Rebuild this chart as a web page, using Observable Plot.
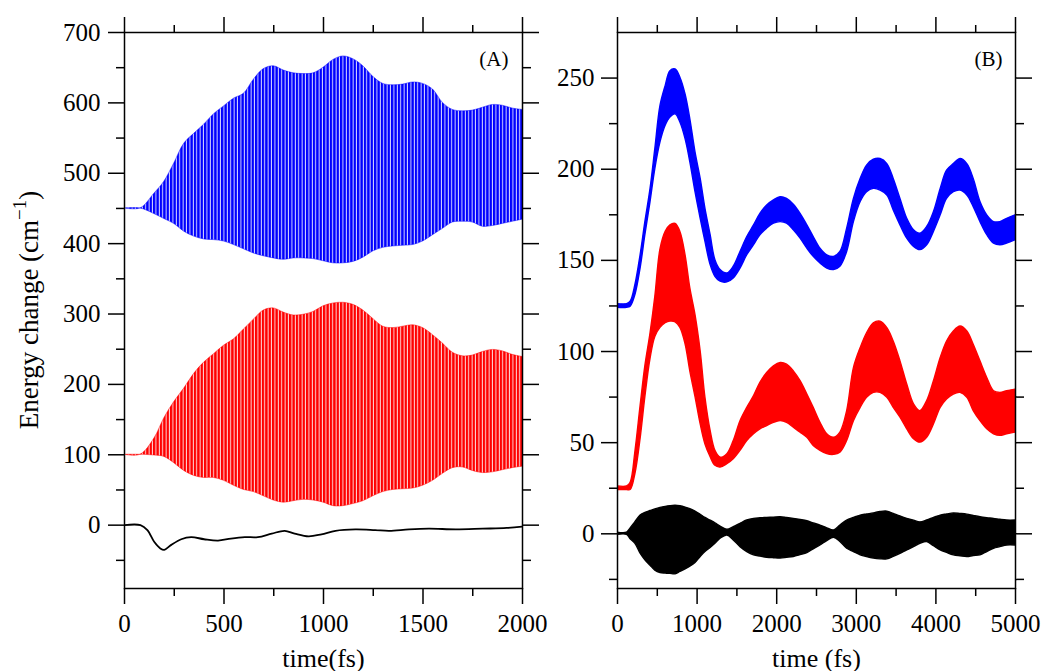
<!DOCTYPE html>
<html><head><meta charset="utf-8">
<script src="https://cdn.jsdelivr.net/npm/d3@7"></script>
<script src="https://cdn.jsdelivr.net/npm/@observablehq/plot@0.6"></script>
<style>
body{margin:0;background:#fff;}
#wrap{position:relative;width:1044px;height:671px;overflow:hidden;background:#fff;}
#wrap svg{position:absolute;top:0;overflow:visible;}
#wrap svg, #wrap svg text, #wrap svg tspan{font-family:"Liberation Serif","Times New Roman",serif !important;}
</style></head><body><div id="wrap"></div>
<script>
// ---------- Panel A data (time in fs, energy change in cm^-1) ----------
const tA = [0,80,150,200,250,300,350,400,450,500,550,600,650,700,750,800,850,900,950,1000,1050,1100,1150,1200,1250,1300,1350,1400,1450,1500,1550,1600,1650,1700,1750,1800,1850,1900,1950,2000];
const blueAHi = [450,450,471,488,514,542,556,569,584,595,606,613,633,648,652,646,642,641,642,650,661,666,662,652,637,627,625,626,629,627,619,600,590,588,589,593,597,596,592,590];
const blueALo = [450,450,442,435,428,417,410,406,405,403,398,392,386,382,379,377,379,379,378,375,372,372,374,380,389,394,396,397,398,403,412,421,430,431,430,424,425,428,431,434];
const redAHi = [100,100,123,152,175,194,215,231,243,255,264,278,292,305,308,302,298,299,303,311,315,316,313,305,293,282,280,282,284,280,270,258,245,240,241,246,249,247,242,239];
const redALo = [100,100,99,97,88,77,70,67,67,63,56,50,47,41,35,32,34,36,35,32,27,27,30,34,41,47,50,51,52,56,63,73,81,82,77,74,75,78,81,83];
const tBlackA = [0,80,115,150,180,200,235,285,335,400,470,535,605,670,740,805,855,925,990,1060,1160,1260,1330,1430,1530,1665,1800,1920,2000];
const blackA = [0,0,-7,-24,-33,-35,-28,-20,-17,-20,-22,-19,-17,-17,-12,-8,-12,-16,-13,-8,-6,-7,-8,-6,-5,-6,-5,-4,-2];

// ---------- Panel B data ----------
const tB = [0,120,165,225,290,350,415,475,540,605,665,730,790,855,915,980,1045,1105,1170,1230,1295,1380,1460,1545,1630,1715,1795,1880,1965,2050,2130,2215,2300,2385,2465,2550,2635,2720,2800,2885,2970,3055,3135,3220,3305,3390,3470,3555,3640,3725,3805,3890,3975,4060,4140,4225,4310,4395,4475,4560,4645,4730,4810,4895,5000];
const blueBHi = [126,126,127.3,136.5,152.8,171,189.2,211,234.7,245.6,253.8,254.7,250.2,241,227.4,209.2,194.7,178.3,163.8,150.1,144.7,142.8,146.5,154.6,162.8,169.2,175.5,180.1,182.9,184.7,183.7,180.5,175.5,169.2,162.8,156.4,152.8,151.9,154.6,167.4,183.7,194.7,202,205.2,205.6,202.8,194.7,183.7,172.8,166.5,164.6,168.3,176.5,189.2,199.2,202.8,205.6,202.8,194.7,182,174.7,171,171,172.8,174.7];
const blueBLo = [124,124,124.6,131,145.5,163.8,182,200.1,214.7,223.8,228.3,230.1,225.6,216.5,203.8,187.4,172.8,160.1,147.4,141,138.3,137.9,140.1,145.5,152.8,158.3,163.8,167.4,170.1,171,170.1,166.5,161.9,156.4,151.9,148.3,145.5,144.7,146.5,154.6,171,182,187.4,189.2,188.3,185.6,177.4,169.2,161.9,157.4,155.6,158.3,165.6,174.7,183.7,187.4,188.3,185.6,179.2,171,163.8,159.2,158.3,159.2,161];
const redBHi = [26,26,28,45,70,92,110,130,156,165.6,169.2,170,165.6,152.8,134.6,120,100,74.6,56.4,45.5,41.8,43.7,50.9,61.8,69.1,75.5,82.8,88.2,91.9,93.7,92.8,89.1,83.7,76.4,69.1,60.9,54.6,52.7,55.5,67.3,90.9,101.9,110,115.5,116.4,112.8,105.5,94.6,81.9,71,67.3,72.8,83.7,96.4,105.5,111,113.7,111,103.7,94.6,85.5,78.2,77.3,78.2,79.1];
const redBLo = [24,24,24,32.8,52,75,96,108,113,115.5,116.4,116,113,104,89,75,60,49,42,37.3,36.4,38.2,40.9,45.5,50.9,54.6,57.3,59.1,60.9,61.8,60.9,58.2,55.5,52.7,48.2,45.5,43.7,43.3,44.5,50.9,61.8,69.1,74.6,77.3,77.3,74.6,69.1,63.7,57.3,51.9,50,52.7,60,69.1,73.7,76.4,77.3,74.6,67.3,61.8,57.3,54.6,53.7,54.6,55.5];
const blackBHi = [0.6,0.6,3,6.4,10,11.5,12.5,13.4,14.2,14.8,15.2,15.4,15.1,14.4,13.5,12.2,10.4,8.7,7.2,5.8,4,2.2,3.6,5.5,7.3,8.2,8.5,8.7,8.9,9.1,8.7,8.2,7.6,6.9,5.7,4.5,3,1.8,4.5,7.3,8.7,10,10.6,11.2,12,12.2,10.9,9.5,8.2,7.2,6.3,7.3,8.7,10,10.6,11.2,10.9,10.5,9.8,9.1,8.6,8.2,7.7,7.3,7.3];
const blackBLo = [-0.6,-0.6,-3,-5.5,-10.9,-14.5,-17.5,-20.2,-21.5,-21.8,-22,-22.2,-20.9,-19.5,-18,-16,-12.7,-10,-7.8,-5.5,-2.7,-0.9,-3.6,-7.3,-10,-11.8,-12.5,-13.1,-13.4,-13.6,-13.2,-12.7,-11.7,-10.6,-8.5,-6.4,-4,-2.2,-4.5,-8.2,-10,-11.8,-12.8,-13.6,-14,-14,-12.7,-11,-9.1,-7.3,-5.5,-4.5,-6.8,-9.1,-10.5,-11.8,-12.3,-12.7,-12.2,-11.8,-10,-8.2,-7.3,-6.4,-6.4];

// ---------- ticks and labels ----------
const ticksAx = [0,500,1000,1500,2000];
const minorAx = [250,750,1250,1750];
const ticksAy = [0,100,200,300,400,500,600,700];
const minorAy = [-50,50,150,250,350,450,550,650];
const ticksBx = [0,1000,2000,3000,4000,5000];
const minorBx = [500,1500,2500,3500,4500];
const ticksBy = [0,50,100,150,200,250];
const minorBy = [-25,25,75,125,175,225];
const xTitleA = "time(fs)";
const xTitleB = "time (fs)";
const yTitle = "Energy change (cm";
const yTitleSup = "\u22121";
const panelA = "(A)";
const panelB = "(B)";

const font = "'Liberation Serif','Times New Roman',serif";
const fmt = d3.format("d");
const blank = () => "";
const SW = 1.5;
const smooth = "catmull-rom";

function frameAxes(xMaj, xMin, yMaj, yMin, yPad) {
  return [
    Plot.frame({stroke: "black", strokeWidth: SW}),
    Plot.axisX({ticks: xMaj, tickSize: 16, tickPadding: 10, tickFormat: fmt, label: null, strokeWidth: SW}),
    Plot.axisX({ticks: xMin, tickSize: 8, tickFormat: blank, label: null, strokeWidth: SW}),
    Plot.axisX({anchor: "top", ticks: xMaj, tickSize: 16, tickFormat: blank, label: null, strokeWidth: SW}),
    Plot.axisX({anchor: "top", ticks: xMin, tickSize: 8, tickFormat: blank, label: null, strokeWidth: SW}),
    Plot.axisY({ticks: yMaj, tickSize: 16, tickPadding: yPad, tickFormat: fmt, label: null, strokeWidth: SW}),
    Plot.axisY({ticks: yMin, tickSize: 8, tickFormat: blank, label: null, strokeWidth: SW}),
    Plot.axisY({anchor: "right", ticks: yMaj, tickSize: 16, tickFormat: blank, label: null, strokeWidth: SW}),
    Plot.axisY({anchor: "right", ticks: yMin, tickSize: 8, tickFormat: blank, label: null, strokeWidth: SW})
  ];
}

const patternDefs = () => {
  const defs = d3.create("svg:defs");
  [["stripeBlue", "#0000ff"], ["stripeRed", "#ff0000"]].forEach(([id, c]) => {
    const p = defs.append("pattern").attr("id", id).attr("patternUnits", "userSpaceOnUse")
      .attr("width", 3.4).attr("height", 8);
    p.append("rect").attr("width", 3.4).attr("height", 8).attr("fill", c).attr("fill-opacity", 0.14);
    p.append("rect").attr("width", 2.4).attr("height", 8).attr("fill", c);
  });
  return defs.node();
};

const yTitleMark = (index, scales, values, dims) => {
  const cy = (dims.marginTop + dims.height - dims.marginBottom) / 2;
  const t = d3.create("svg:text")
    .attr("transform", `translate(38,${cy}) rotate(-90)`)
    .attr("text-anchor", "middle").attr("font-size", 27).attr("fill", "black")
    .attr("font-family", font);
  t.append("tspan").text(yTitle);
  t.append("tspan").attr("font-size", 19).attr("dy", -12).text(yTitleSup);
  t.append("tspan").attr("dy", 12).text(")");
  return t.node();
};

const wrap = document.getElementById("wrap");

const plotA = Plot.plot({
  width: 545, height: 671,
  marginLeft: 124, marginRight: 23, marginTop: 32, marginBottom: 83,
  style: {fontFamily: font, fontSize: "25px", color: "black", background: "transparent"},
  x: {domain: [0, 2000]},
  y: {domain: [-90, 700]},
  marks: [
    patternDefs,
    Plot.areaY(tA, {x: tA, y1: blueALo, y2: blueAHi, curve: smooth, fill: "url(#stripeBlue)", stroke: "#0000ff", strokeWidth: 0.8, strokeOpacity: 0.6, clip: true}),
    Plot.areaY(tA, {x: tA, y1: redALo, y2: redAHi, curve: smooth, fill: "url(#stripeRed)", stroke: "#ff0000", strokeWidth: 0.8, strokeOpacity: 0.6, clip: true}),
    Plot.line(tBlackA, {x: tBlackA, y: blackA, curve: smooth, stroke: "black", strokeWidth: 1.8, clip: true}),
    ...frameAxes(ticksAx, minorAx, ticksAy, minorAy, 8),
    Plot.text([xTitleA], {text: d => d, frameAnchor: "bottom", dy: 78, fontSize: 26}),
    Plot.text([panelA], {text: d => d, frameAnchor: "top-right", dx: -14, dy: 19, fontSize: 21}),
    yTitleMark
  ]
});
plotA.style.left = "0px";
wrap.appendChild(plotA);

const plotB = Plot.plot({
  width: 499, height: 671,
  marginLeft: 72, marginRight: 29, marginTop: 32, marginBottom: 83,
  style: {fontFamily: font, fontSize: "25px", color: "black", background: "transparent"},
  x: {domain: [0, 5000]},
  y: {domain: [-30, 275]},
  marks: [
    Plot.areaY(tB, {x: tB, y1: blueBLo, y2: blueBHi, curve: smooth, fill: "#0000ff", stroke: "#0000ff", strokeWidth: 1.4, clip: true}),
    Plot.areaY(tB, {x: tB, y1: redBLo, y2: redBHi, curve: smooth, fill: "#ff0000", stroke: "#ff0000", strokeWidth: 1.4, clip: true}),
    Plot.areaY(tB, {x: tB, y1: blackBLo, y2: blackBHi, curve: smooth, fill: "#000000", stroke: "#000000", strokeWidth: 1.4, clip: true}),
    ...frameAxes(ticksBx, minorBx, ticksBy, minorBy, 7),
    Plot.text([xTitleB], {text: d => d, frameAnchor: "bottom", dy: 78, fontSize: 26}),
    Plot.text([panelB], {text: d => d, frameAnchor: "top-right", dx: -13, dy: 19, fontSize: 21})
  ]
});
plotB.style.left = "545px";
wrap.appendChild(plotB);
</script>
</body></html>
